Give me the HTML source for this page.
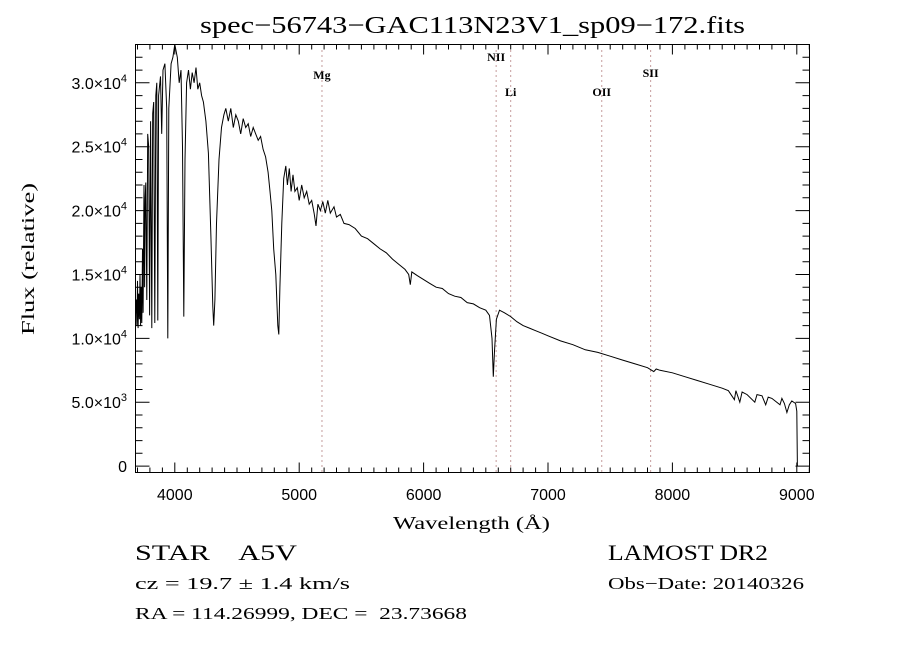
<!DOCTYPE html>
<html><head><meta charset="utf-8"><style>
body{margin:0;background:#fff;width:900px;height:650px;overflow:hidden}
svg{display:block}
.ser{font-family:"Liberation Serif",serif;white-space:pre}
.san{font-family:"Liberation Sans",sans-serif}
</style></head><body>
<svg id="chart" width="900" height="650" xmlns="http://www.w3.org/2000/svg">
<text class="ser" x="200" y="33" font-size="24" textLength="545" lengthAdjust="spacingAndGlyphs">spec−56743−GAC113N23V1_sp09−172.fits</text>
<g id="axes"></g>
<g id="lines"></g>
<path id="spec" fill="none" stroke="#000" stroke-width="1"/>
<rect x="135.5" y="44.5" width="674" height="428" fill="none" stroke="#000" stroke-width="1"/>
<text class="ser" x="393" y="529" font-size="18" textLength="157" lengthAdjust="spacingAndGlyphs">Wavelength (Å)</text>
<text class="ser" transform="translate(34,335) rotate(-90)" font-size="18" textLength="152" lengthAdjust="spacingAndGlyphs">Flux (relative)</text>
<text class="ser" x="135" y="560" font-size="22" textLength="162" lengthAdjust="spacingAndGlyphs">STAR    A5V</text>
<text class="ser" x="135" y="589" font-size="17" textLength="215" lengthAdjust="spacingAndGlyphs">cz = 19.7 ± 1.4 km/s</text>
<text class="ser" x="135" y="619" font-size="17" textLength="332" lengthAdjust="spacingAndGlyphs">RA = 114.26999, DEC =  23.73668</text>
<text class="ser" x="608" y="560" font-size="22" textLength="160" lengthAdjust="spacingAndGlyphs">LAMOST DR2</text>
<text class="ser" x="608" y="589" font-size="17" textLength="196" lengthAdjust="spacingAndGlyphs">Obs−Date: 20140326</text>
</svg>
<script>
const wl=[3690,3695,3700,3705,3710,3715,3720,3725,3730,3735,3740,3745,3752,3757,3762,3767,3775,3782,3790,3797,3805,3815,3822,3830,3839,3847,3855,3863,3870,3885,3895,3905,3920,3935,3944,3952,3970,3985,4000,4008,4020,4035,4050,4062,4072,4082,4095,4110,4125,4140,4155,4170,4185,4200,4215,4230,4250,4270,4290,4305,4313,4322,4335,4355,4375,4395,4410,4430,4450,4470,4490,4510,4530,4550,4570,4590,4610,4630,4650,4670,4690,4710,4730,4750,4765,4780,4795,4812,4828,4836,4845,4860,4875,4892,4905,4920,4935,4950,4965,4985,5000,5020,5040,5060,5080,5100,5120,5135,5150,5170,5190,5210,5230,5250,5280,5300,5330,5360,5400,5450,5500,5550,5600,5650,5700,5750,5800,5850,5880,5893,5905,5950,6000,6050,6100,6150,6200,6250,6300,6350,6400,6450,6500,6530,6550,6560,6570,6585,6610,6650,6700,6750,6800,6850,6900,6950,7000,7100,7200,7300,7400,7500,7600,7700,7800,7850,7870,7900,8000,8100,8200,8300,8400,8450,8498,8510,8542,8560,8600,8662,8680,8720,8750,8770,8800,8865,8880,8900,8920,8940,8960,8990,9000,9005];
const flux=[13000,11000,14500,10800,13500,11500,15000,11000,14000,11200,17000,12000,22000,14000,21000,22200,13000,26000,25000,11800,27000,10800,27600,28500,11200,29000,30000,11400,29000,30500,26000,31000,31500,28000,10000,28000,31500,32000,33000,32600,32000,30000,31000,25000,11700,24000,30000,31000,29500,30800,30000,31200,29500,30000,29000,28500,27000,24500,18000,12500,11000,13000,19000,24000,26500,27500,28000,27000,28000,26500,27500,27000,26000,27200,26500,26800,25800,26500,26000,25500,25800,24800,24200,23000,21500,20000,17000,15000,11000,10300,14000,19000,22500,23500,22000,23300,21500,22800,21500,21800,20800,22000,21000,21500,20500,20800,19800,18800,20500,20000,20700,19800,20800,19800,20300,19500,19700,19000,18900,18600,18000,17800,17400,17000,16700,16200,15800,15400,15000,14200,15200,14900,14600,14300,14000,13900,13500,13300,13200,12800,12700,12400,12200,11800,10000,7000,9000,11500,12200,12000,11700,11300,11000,10800,10600,10400,10200,9800,9500,9100,8900,8600,8300,8000,7700,7400,7600,7500,7300,7000,6700,6400,6100,5900,5200,5900,5000,5800,5600,5000,5600,5500,4800,5400,5300,4800,5300,4900,4200,4800,5100,4900,4300,0];
const xTicks=[4000,5000,6000,7000,8000,9000];
const yTicks=[0,5000,10000,15000,20000,25000,30000];
const yLabels=["0","5.0×10<tspan dy='-7' font-size='11'>3</tspan>","1.0×10<tspan dy='-7' font-size='11'>4</tspan>","1.5×10<tspan dy='-7' font-size='11'>4</tspan>","2.0×10<tspan dy='-7' font-size='11'>4</tspan>","2.5×10<tspan dy='-7' font-size='11'>4</tspan>","3.0×10<tspan dy='-7' font-size='11'>4</tspan>"];
const lineNames=["Mg","NII","Li","OII","SII"];
const lineWl=[5183,6583,6700,7432,7825];
const lineLabelY=[79,61,96,96,77];

const X0=135.5,X1=809.5,Y0=472.5,Y1=44.5,WMIN=3684,WMAX=9102,FMIN=-500,FMAX=33000;
const sx=w=>X0+(w-WMIN)/(WMAX-WMIN)*(X1-X0);
const sy=f=>Y0-(f-FMIN)/(FMAX-FMIN)*(Y0-Y1);
const NS="http://www.w3.org/2000/svg";
function mk(tag,attrs,parent){const e=document.createElementNS(NS,tag);for(const k in attrs)e.setAttribute(k,attrs[k]);parent.appendChild(e);return e;}
const axes=document.getElementById('axes');
let d="";
for(let w=3700;w<=9100;w+=100){const x=sx(w).toFixed(1);const L=(w%1000===0)?10:5;d+=`M${x} ${Y0}v${-L}M${x} ${Y1}v${L}`;}
for(let f=0;f<=33000;f+=1000){const y=sy(f).toFixed(1);const L=(f%5000===0)?14:7;d+=`M${X0} ${y}h${L}M${X1} ${y}h${-L}`;}
const tp=mk('path',{d:d,stroke:'#000','stroke-width':1,fill:'none'},axes);


xTicks.forEach(w=>{const t=mk('text',{x:sx(w),y:500,'font-size':16,'text-anchor':'middle',class:'san'},axes);t.textContent=w;

});
yTicks.forEach((f,i)=>{const t=mk('text',{x:127,y:sy(f)+6,'font-size':16,'text-anchor':'end',class:'san'},axes);t.innerHTML=yLabels[i];

});
const lg=document.getElementById('lines');
lineWl.forEach((w,i)=>{const x=sx(w);
const l=mk('line',{x1:x,x2:x,y1:Y1+6,y2:Y0,stroke:'#8b3a3a','stroke-width':1,'stroke-dasharray':'1 4'},lg);


const t=mk('text',{x:x,y:lineLabelY[i],'font-size':12,'text-anchor':'middle',class:'ser','font-weight':'bold'},lg);t.textContent=lineNames[i];

});
let p="";wl.forEach((w,i)=>{p+=(i?"L":"M")+sx(w).toFixed(1)+" "+Math.max(Y1,sy(flux[i])).toFixed(1);});
document.getElementById('spec').setAttribute('d',p);
</script>
</body></html>
